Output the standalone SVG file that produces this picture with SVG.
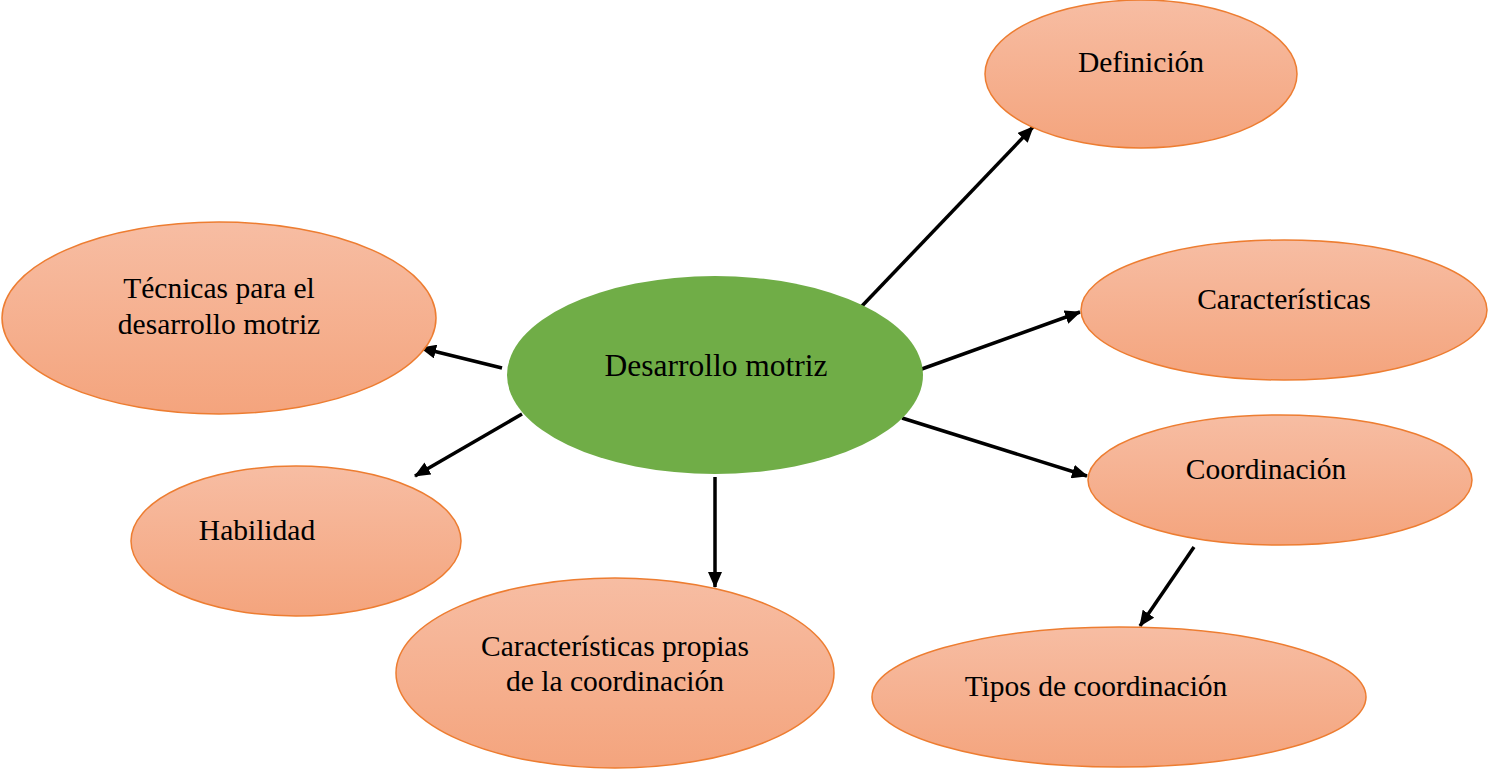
<svg xmlns="http://www.w3.org/2000/svg" width="1488" height="771" viewBox="0 0 1488 771">
<defs>
<linearGradient id="og" x1="0" y1="0" x2="0" y2="1">
<stop offset="0" stop-color="#F7BDA3"/>
<stop offset="1" stop-color="#F4A47D"/>
</linearGradient>
<marker id="ah" viewBox="0 0 16 14" refX="15" refY="7" markerWidth="16" markerHeight="14" markerUnits="userSpaceOnUse" orient="auto">
<path d="M0,0 L16,7 L0,14 Z" fill="#000"/>
</marker>
</defs>
<style>
.o{fill:url(#og);stroke:#ED7D31;stroke-width:1.5}
.c{fill:#70AD47}
text{font-family:"Liberation Serif","Times New Roman",serif;font-size:29.5px;fill:#000;text-anchor:middle}
.big{font-size:31.5px}
.e{stroke:#000;stroke-width:3.5;fill:none;marker-end:url(#ah)}
</style>
<rect width="1488" height="771" fill="#fff"/>
<g id="connectors">
<line class="e" x1="862" y1="306" x2="1033" y2="127"/>
<line class="e" x1="919" y1="370" x2="1080" y2="312"/>
<line class="e" x1="902" y1="418" x2="1087" y2="476"/>
<line class="e" x1="1194" y1="547" x2="1140" y2="626"/>
<line class="e" x1="715" y1="477" x2="715" y2="587"/>
<line class="e" x1="522" y1="414" x2="415" y2="476"/>
<line class="e" x1="502" y1="368" x2="421" y2="348"/>
</g>
<g id="n-center"><ellipse class="c" cx="715" cy="375" rx="208" ry="99"/><text class="big" x="716" y="376">Desarrollo motriz</text></g>
<g id="n-definicion"><ellipse class="o" cx="1141" cy="74" rx="156" ry="74"/><text x="1141" y="72">Definición</text></g>
<g id="n-caracteristicas"><ellipse class="o" cx="1284" cy="310" rx="203" ry="70"/><text x="1284" y="309">Características</text></g>
<g id="n-coordinacion"><ellipse class="o" cx="1280" cy="480" rx="192" ry="65"/><text x="1266" y="479">Coordinación</text></g>
<g id="n-tipos"><ellipse class="o" cx="1119" cy="697" rx="247" ry="70"/><text x="1096" y="696">Tipos de coordinación</text></g>
<g id="n-propias"><ellipse class="o" cx="615" cy="673" rx="219" ry="95"/><text x="615" y="656">Características propias</text><text x="615" y="691">de la coordinación</text></g>
<g id="n-habilidad"><ellipse class="o" cx="296" cy="541" rx="165" ry="75"/><text x="257" y="540">Habilidad</text></g>
<g id="n-tecnicas"><ellipse class="o" cx="219" cy="318" rx="217" ry="96"/><text x="219" y="298">Técnicas para el</text><text x="219" y="334">desarrollo motriz</text></g>
</svg>
